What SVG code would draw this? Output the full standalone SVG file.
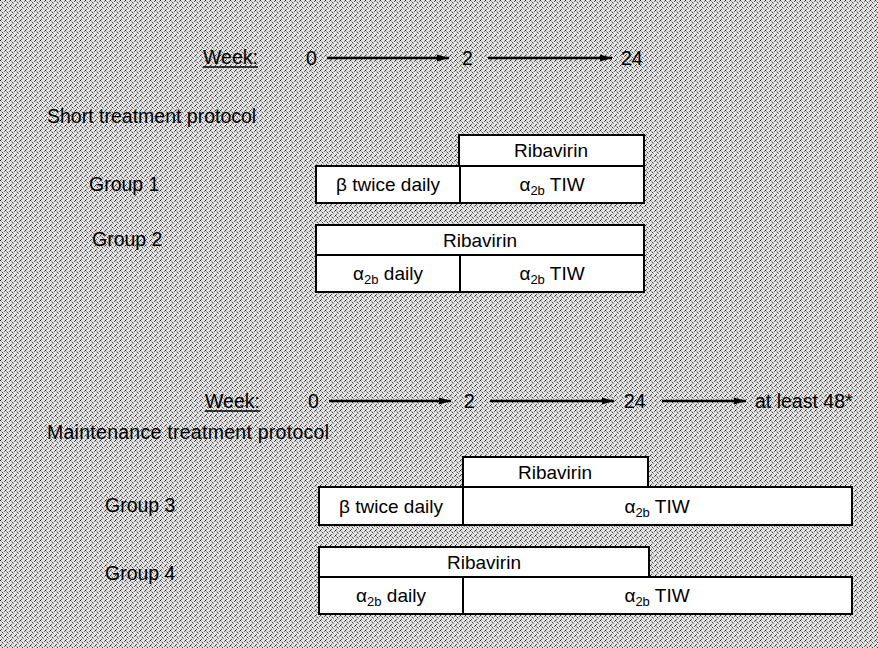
<svg xmlns="http://www.w3.org/2000/svg" width="878" height="648" viewBox="0 0 878 648">
<defs>
<pattern id="halftone" x="0" y="0" width="5" height="5" patternUnits="userSpaceOnUse">
<rect width="5" height="5" fill="#e2e2e2"/>
<rect x="0" y="0" width="1" height="1" fill="#222"/>
<rect x="2" y="2" width="1" height="1" fill="#444"/>
<rect x="4" y="1" width="1" height="1" fill="#666"/>
<rect x="1" y="4" width="1" height="1" fill="#555"/>
<rect x="3" y="3" width="1" height="1" fill="#888"/>
<rect x="1" y="1" width="1" height="1" fill="#aaa"/>
</pattern>
<marker id="arrow" viewBox="0 0 12 10" refX="12" refY="5" markerWidth="12" markerHeight="10" markerUnits="userSpaceOnUse" orient="auto">
<path d="M0,1.5 L12,5 L0,8.5 Z" fill="#000"/>
</marker>
</defs>
<style>
text{font-family:"Liberation Sans",Arial,sans-serif;fill:#000;}
.lbl{font-size:19.5px;}
.box{fill:#fff;stroke:#000;stroke-width:2;}
.div{stroke:#000;stroke-width:2;}
.bt{font-size:19px;text-anchor:middle;}
.sub{font-size:13px;}
.conn line{stroke:#000;stroke-width:2.5;}
</style>
<rect width="878" height="648" fill="url(#halftone)"/>

<!-- Top timeline -->
<g id="timeline1">
<text class="lbl" x="203" y="64" font-size="20">Week:</text>
<line x1="203" y1="67" x2="258" y2="67" stroke="#000" stroke-width="1.5"/>
<text class="lbl" x="306" y="65">0</text>
<text class="lbl" x="462" y="65">2</text>
<text class="lbl" x="621" y="65">24</text>
</g>
<g id="connectors" class="conn">
<line x1="327" y1="58" x2="449" y2="58" marker-end="url(#arrow)"/>
<line x1="488" y1="58" x2="612" y2="58" marker-end="url(#arrow)"/>
<line x1="329" y1="401" x2="451" y2="401" marker-end="url(#arrow)"/>
<line x1="490" y1="401" x2="614" y2="401" marker-end="url(#arrow)"/>
<line x1="662" y1="401" x2="746" y2="401" marker-end="url(#arrow)"/>
</g>

<text class="lbl" x="47" y="123">Short treatment protocol</text>

<!-- Group 1 -->
<g id="group1">
<text class="lbl" x="89" y="191">Group 1</text>
<rect class="box" x="459" y="135" width="185" height="31"/>
<text class="bt" x="551" y="157">Ribavirin</text>
<rect class="box" x="316" y="166" width="328" height="37"/>
<line class="div" x1="460" y1="166" x2="460" y2="203"/>
<text class="bt" x="388" y="191">β twice daily</text>
<text class="bt" x="552" y="191">α<tspan class="sub" dy="4">2b</tspan><tspan dy="-4"> TIW</tspan></text>
</g>

<!-- Group 2 -->
<g id="group2">
<text class="lbl" x="92" y="246">Group 2</text>
<rect class="box" x="316" y="225" width="328" height="30"/>
<text class="bt" x="480" y="247">Ribavirin</text>
<rect class="box" x="316" y="255" width="328" height="37"/>
<line class="div" x1="460" y1="255" x2="460" y2="292"/>
<text class="bt" x="388" y="280">α<tspan class="sub" dy="4">2b</tspan><tspan dy="-4"> daily</tspan></text>
<text class="bt" x="552" y="280">α<tspan class="sub" dy="4">2b</tspan><tspan dy="-4"> TIW</tspan></text>
</g>

<!-- Bottom timeline -->
<g id="timeline2">
<text class="lbl" x="205" y="408" font-size="20">Week:</text>
<line x1="205" y1="411" x2="260" y2="411" stroke="#000" stroke-width="1.5"/>
<text class="lbl" x="308" y="408">0</text>
<text class="lbl" x="464" y="408">2</text>
<text class="lbl" x="624" y="408">24</text>
<text class="lbl" x="755" y="408">at least 48*</text>
</g>

<text class="lbl" x="47" y="439" textLength="282" lengthAdjust="spacing">Maintenance treatment protocol</text>

<!-- Group 3 -->
<g id="group3">
<text class="lbl" x="105" y="512">Group 3</text>
<rect class="box" x="463" y="457" width="185" height="30"/>
<text class="bt" x="555" y="479">Ribavirin</text>
<rect class="box" x="319" y="487" width="533" height="38"/>
<line class="div" x1="463" y1="487" x2="463" y2="525"/>
<text class="bt" x="391" y="513">β twice daily</text>
<text class="bt" x="657" y="513">α<tspan class="sub" dy="4">2b</tspan><tspan dy="-4"> TIW</tspan></text>
</g>

<!-- Group 4 -->
<g id="group4">
<text class="lbl" x="105" y="580">Group 4</text>
<rect class="box" x="319" y="547" width="330" height="30"/>
<text class="bt" x="484" y="569">Ribavirin</text>
<rect class="box" x="319" y="577" width="533" height="37"/>
<line class="div" x1="463" y1="577" x2="463" y2="614"/>
<text class="bt" x="391" y="602">α<tspan class="sub" dy="4">2b</tspan><tspan dy="-4"> daily</tspan></text>
<text class="bt" x="657" y="602">α<tspan class="sub" dy="4">2b</tspan><tspan dy="-4"> TIW</tspan></text>
</g>
</svg>
